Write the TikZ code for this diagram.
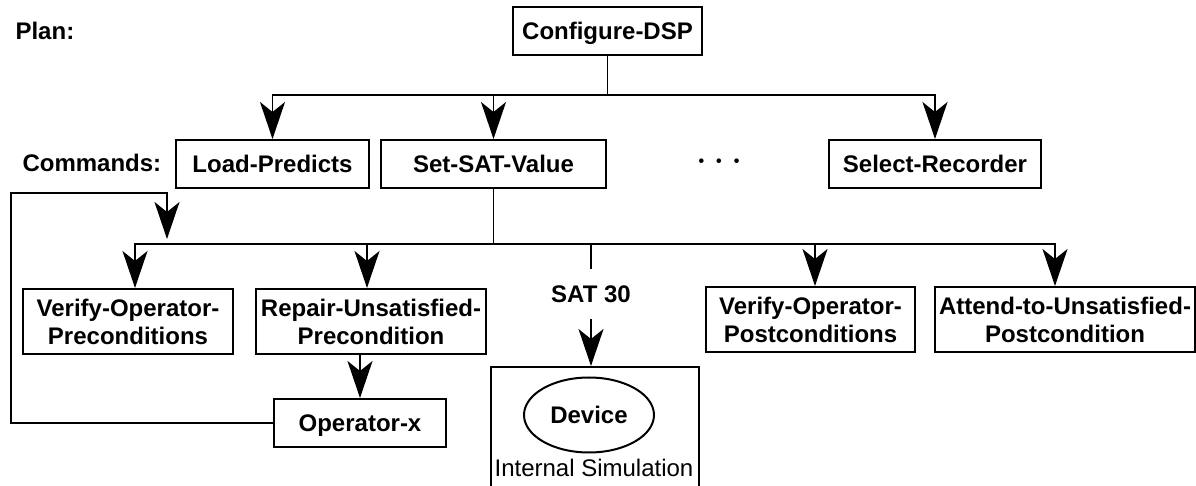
\documentclass[tikz,border=0pt]{standalone}
\usepackage{fontspec}
\setmainfont{Liberation Sans}
\usepackage{tikz}
\usetikzlibrary{arrows.meta,shapes.geometric}

\tikzset{bus/.style={to path={-- (\tikztostart |- #1) -| (\tikztotarget) \tikztonodes}}}

\begin{document}
\begin{tikzpicture}[->,>={Stealth[length=18.5pt,width=12.5pt,inset=5pt]}
	,x=0.5pt,y=-0.5pt
	,line width=0.9pt
	,font=\fontsize{12}{14}\selectfont\bfseries]
  \tikzstyle{cmd}
  =[draw,rectangle,line width=1pt,inner sep=0pt,minimum height=24pt,text height=8.6pt,text depth=0pt]
  \tikzstyle{sub}
  =[draw,rectangle,line width=1pt,inner sep=0pt,minimum height=32.5pt,align=center]

  \useasboundingbox (0,0) rectangle (1196,486);
  \coordinate (bar1) at (0,95);
  \coordinate (bar2) at (0,244);

  % plan
  \node[anchor=base west](plan) at (8,40) {Plan:};
  \node[cmd,minimum width=94.5pt](conf) at (607.5,31) {Configure-DSP};
  % commands
  \node[anchor=base west](cmds) at (15,172) {Commands:};
  \node[cmd,minimum width=96.5pt](load) at (272.5,164) {Load-Predicts};
  \node[cmd,minimum width=112.5pt](setsat) at (493.5,164) {Set-SAT-Value};
  \node[](dots) at (719,163) {\fontsize{8}{8}\selectfont •\hspace{6pt}•\hspace{6pt}•};
  \node[cmd,minimum width=106pt](select) at (935,164) {Select-Recorder};
  % steps of Set-SAT-Value
  \node[sub,minimum width=105pt](verpre) at (128,321.5) {Verify-Operator-\\Preconditions};
  \node[sub,minimum width=115pt](repair) at (371,321.5) {Repair-Unsatisfied-\\Precondition};
  \node[inner xsep=2pt,inner ysep=8pt](sat) at (591,294) {SAT 30};
  \node[sub,minimum width=104.5pt](verpost) at (810.5,319.5) {Verify-Operator-\\Postconditions};
  \node[sub,minimum width=130pt](attend) at (1065,319.5) {Attend-to-Unsatisfied-\\Postcondition};
  \node[cmd,minimum width=86pt](opx) at (360,423) {Operator-x};
  % simulation
  \node[draw,line width=1pt,minimum width=104pt,minimum height=70pt](sim) at (595,437) {};
  \node[draw,ellipse,line width=1pt,minimum width=65pt,minimum height=37.5pt
	,text height=8.6pt,text depth=0pt](device) at (589,415) {Device};
  \node[anchor=base,font=\fontsize{12}{14}\selectfont\mdseries](simlabel) at (594,477) {Internal Simulation};

  % loop back
  \coordinate (fbcorner) at (11,193);
  \coordinate (fbtop) at (167,193);
  \coordinate (fbin) at (167,239);

  % plan to commands
  \path [] (conf)   edge [bus=bar1]   (load);
  \path [] (conf)   edge [bus=bar1]   (setsat);
  \path [] (conf)   edge [bus=bar1]   (select);
  % Set-SAT-Value
  \path [] (setsat) edge [bus=bar2]   ([xshift=3.5pt]verpre.north);
  \path [] (setsat) edge [bus=bar2]   ([xshift=-2pt]repair.north);
  \path [] (setsat) edge [bus=bar2,-] (sat);
  \path [] (setsat) edge [bus=bar2]   ([xshift=2.25pt]verpost.north);
  \path [] (setsat) edge [bus=bar2]   ([xshift=-5pt]attend.north);
  \path [] (sat)    edge              (sim.north -| sat);
  \path [] (repair.south -| opx) edge (opx);
  \draw (opx.west) -| (fbcorner) -- (fbtop) -- (fbin);

\end{tikzpicture}
\end{document}
